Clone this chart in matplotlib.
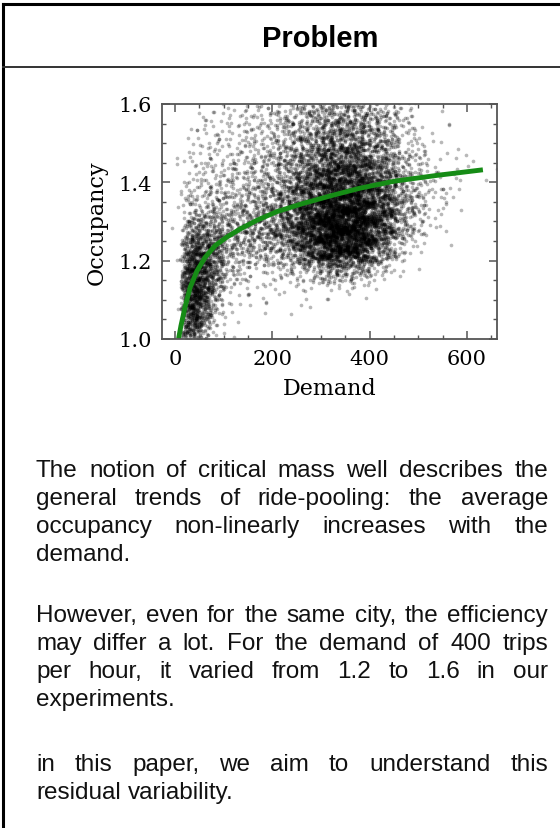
import numpy as np
import matplotlib.pyplot as plt
from matplotlib.lines import Line2D
from matplotlib.ticker import MultipleLocator

# scatter cloud, read from the picture as a density grid:
# points per 50-demand x 0.05-occupancy cell, rows from occupancy 1.00 upwards
demand_edges = [0, 15, 30, 50, 75, 100, 150, 200, 250, 300, 350, 400, 450, 500, 550, 600, 650]
occ_edges = [1.00, 1.05, 1.10, 1.15, 1.20, 1.25, 1.30, 1.35, 1.40, 1.45, 1.50, 1.55, 1.60]
density = [
    [1, 150, 230, 70, 8, 1, 0, 0, 0, 0, 0, 0, 0, 0, 0, 0],
    [2, 210, 330, 150, 30, 5, 2, 1, 1, 0, 0, 0, 0, 0, 0, 0],
    [3, 230, 360, 230, 65, 12, 6, 6, 6, 5, 3, 1, 0, 0, 0, 0],
    [4, 190, 330, 260, 110, 30, 18, 22, 45, 90, 70, 18, 1, 0, 0, 0],
    [4, 130, 250, 220, 130, 65, 50, 75, 200, 380, 330, 110, 12, 1, 0, 0],
    [4, 65, 120, 120, 100, 80, 85, 130, 300, 500, 450, 210, 45, 6, 0, 0],
    [4, 30, 50, 55, 50, 55, 75, 120, 270, 440, 410, 220, 65, 14, 2, 0],
    [4, 18, 26, 32, 32, 40, 55, 95, 210, 340, 330, 190, 65, 18, 5, 1],
    [3, 10, 16, 20, 22, 30, 42, 72, 150, 250, 250, 150, 50, 14, 4, 2],
    [2, 6, 10, 14, 17, 22, 34, 58, 110, 170, 170, 100, 32, 8, 3, 1],
    [0, 3, 7, 10, 12, 17, 26, 46, 80, 115, 115, 70, 22, 4, 1, 0],
    [0, 1, 4, 7, 8, 12, 20, 35, 60, 85, 85, 55, 15, 2, 0, 0],
]

# green fit curve
curve_demand = [7, 12, 21, 31, 45, 62, 82, 106, 134, 168, 209, 260, 318, 380, 451, 540, 633]
curve_occ = [1.0, 1.034, 1.085, 1.132, 1.174, 1.209, 1.238, 1.26, 1.281, 1.303,
             1.325, 1.345, 1.365, 1.385, 1.403, 1.418, 1.432]

title = "Problem"
paragraphs = [
    ["The notion of critical mass well describes the",
     "general trends of ride-pooling: the average",
     "occupancy non-linearly increases with the",
     "demand."],
    ["However, even for the same city, the efficiency",
     "may differ a lot. For the demand of 400 trips",
     "per hour, it varied from 1.2 to 1.6 in our",
     "experiments."],
    ["in this paper, we aim to understand this",
     "residual variability."],
]


def halton(i, base):
    f, r = 1.0, 0.0
    while i > 0:
        f /= base
        r += f * (i % base)
        i //= base
    return r


# spread each cell's points evenly (low-discrepancy) over the cell,
# with a soft edge reaching into the neighbouring cells
xs, ys = [], []
k = 1
for r, row in enumerate(density):
    y0, y1 = occ_edges[r], occ_edges[r + 1]
    for c, d in enumerate(row):
        x0, x1 = demand_edges[c], demand_edges[c + 1]
        n = int(round(d * (x1 - x0) / 50.0))
        for _ in range(n):
            u = halton(k, 2) + 0.6 * (halton(k, 5) + halton(k, 7) - 1)
            v = halton(k, 3) + 0.6 * (halton(k, 11) + halton(k, 13) - 1)
            xs.append(x0 + u * (x1 - x0))
            ys.append(y0 + v * (y1 - y0))
            k += 1

W, H = 560, 829
fig = plt.figure(figsize=(W / 100, H / 100), dpi=100)


def fx(px):
    return px / W


def fy(py):
    return 1 - py / H


# panel frame
fig.add_artist(Line2D([fx(3), fx(560)], [fy(5), fy(5)], color='black', lw=2.2))
fig.add_artist(Line2D([fx(3), fx(3)], [fy(5), fy(829)], color='black', lw=2.2))
fig.add_artist(Line2D([fx(3), fx(560)], [fy(68), fy(68)], color='#333333', lw=1.4))
fig.text(fx(320), fy(39), title, ha='center', va='center', fontsize=21,
         fontweight='bold', family='Liberation Sans')

# plot
ax = fig.add_axes([fx(162), fy(340), fx(497) - fx(162), (340 - 105) / H])
ax.scatter(xs, ys, s=7, color='black', alpha=0.28, linewidths=0, rasterized=True)
ax.plot(curve_demand, curve_occ, color='#168c16', lw=3.5, solid_capstyle='butt')
ax.set_xlim(-27, 662)
ax.set_ylim(1.0, 1.6)
ax.xaxis.set_major_locator(MultipleLocator(200))
ax.xaxis.set_minor_locator(MultipleLocator(50))
ax.yaxis.set_major_locator(MultipleLocator(0.2))
ax.yaxis.set_minor_locator(MultipleLocator(0.05))
ax.yaxis.set_major_formatter(plt.FormatStrFormatter('%.1f'))
ax.tick_params(which='both', direction='in', top=True, right=True,
               color='#555555', labelsize=15, pad=7)
ax.tick_params(which='major', length=6, width=1.1)
ax.tick_params(which='minor', length=3, width=1.0)
for lab in ax.get_xticklabels() + ax.get_yticklabels():
    lab.set_family('DejaVu Serif')
for sp in ax.spines.values():
    sp.set_color('#555555')
    sp.set_linewidth(1.3)
ax.set_xlabel('Demand', family='DejaVu Serif', fontsize=16)
ax.set_ylabel('Occupancy', family='DejaVu Serif', fontsize=16)
ax.xaxis.set_label_coords(0.5, (340 - 389) / 235)
ax.xaxis.label.set_va('center')
ax.yaxis.set_label_coords((97 - 162) / 335, 0.5)
ax.yaxis.label.set_va('center')

# justified body text
renderer = fig.canvas.get_renderer()
body = dict(fontsize=17.5, family='Liberation Sans', color='#111111', va='baseline')
tmp1 = fig.text(0, 0, 'a a', **body)
tmp2 = fig.text(0, 0, 'aa', **body)
space = tmp1.get_window_extent(renderer).width - tmp2.get_window_extent(renderer).width
tmp1.remove()
tmp2.remove()

left, right = 36, 548
baselines = [[477, 505, 533, 561], [622, 650, 678, 706], [771, 799]]
for para, bls in zip(paragraphs, baselines):
    for i, (line, bl) in enumerate(zip(para, bls)):
        words = line.split()
        texts = [fig.text(0, fy(bl), w, **body) for w in words]
        widths = [t.get_window_extent(renderer).width for t in texts]
        last = i == len(para) - 1
        gap = space if last or len(words) == 1 else (right - left - sum(widths)) / (len(words) - 1)
        x = left
        for t, w in zip(texts, widths):
            t.set_x(fx(x))
            x += w + gap

fig.savefig('out.png', dpi=100)
